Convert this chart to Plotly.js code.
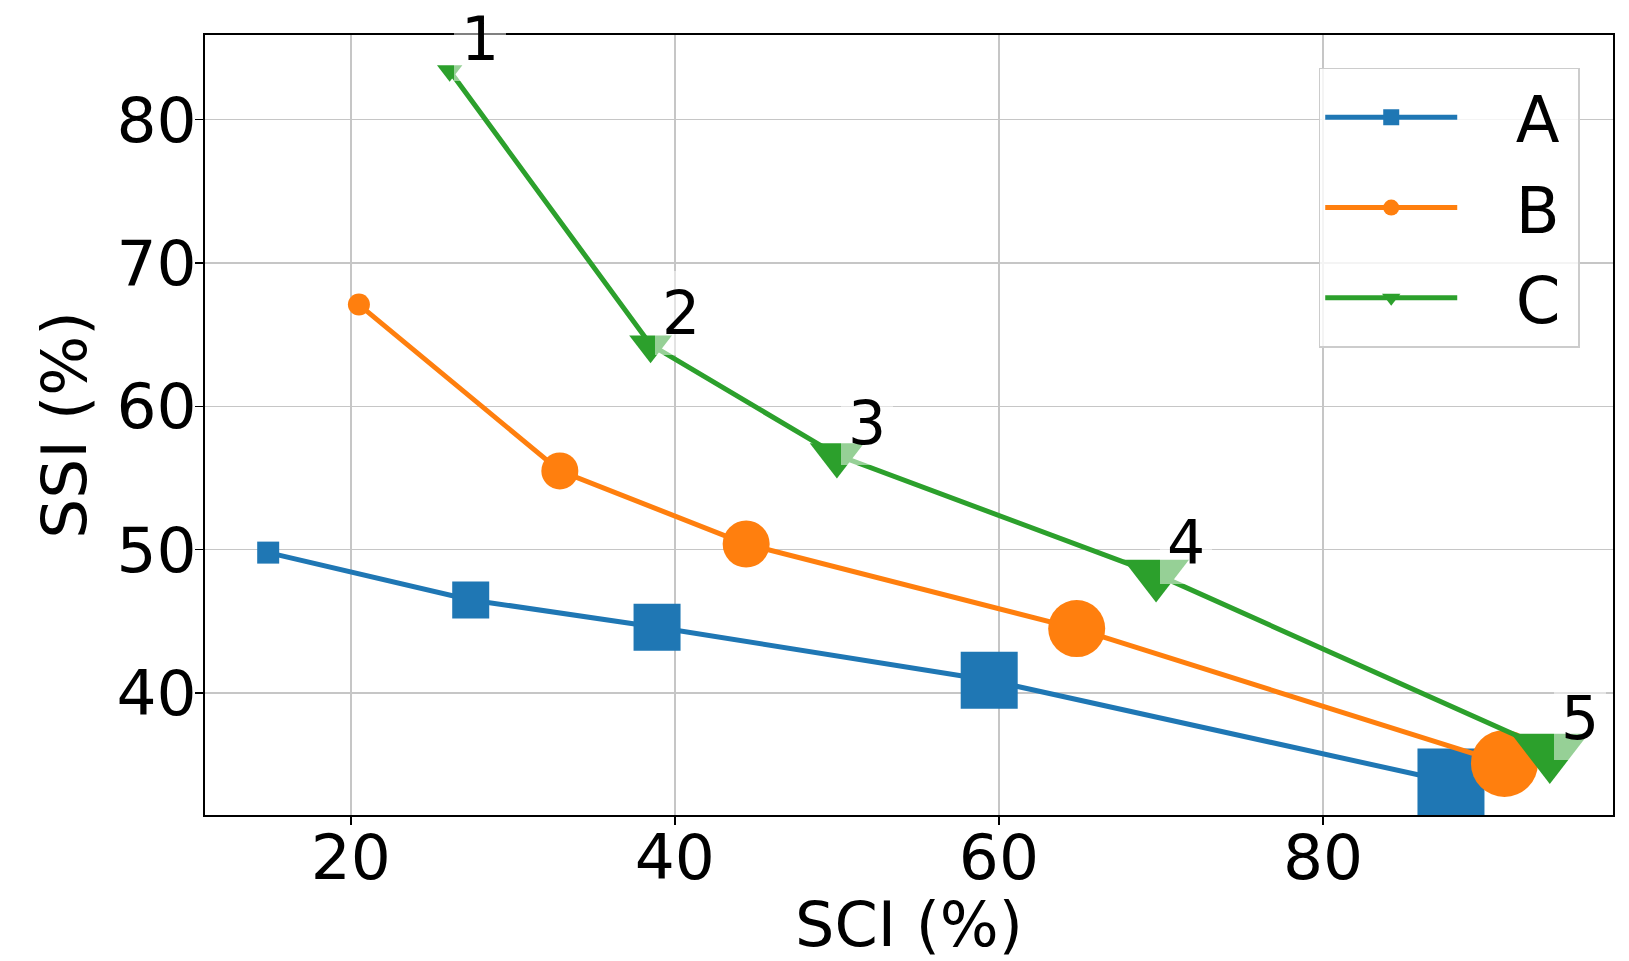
<!DOCTYPE html>
<html>
<head>
<meta charset="utf-8">
<script src="https://cdn.plot.ly/plotly-3.0.1.min.js"></script>
<style>
  html, body { margin: 0; padding: 0; background: #ffffff; }
  #chart { width: 1629px; height: 961px; }
</style>
</head>
<body>
<div id="chart"></div>
<script>
// ---- data ----
const seriesNames = ['A', 'B', 'C'];
const sciA = [14.9, 27.4, 38.9, 59.4, 87.9];
const ssiA = [49.8, 46.5, 44.6, 40.9, 33.8];
const sciB = [20.5, 32.9, 44.4, 64.8, 91.2];
const ssiB = [67.1, 55.5, 50.4, 44.5, 35.1];
const sciC = [26.1, 38.5, 50.0, 69.7, 94.0];
const ssiC = [83.4, 64.3, 56.6, 48.3, 36.0];
const pointLabels = ['1', '2', '3', '4', '5'];
const xTicks = [20, 40, 60, 80];
const yTicks = [40, 50, 60, 70, 80];

// ---- styling ----
const markerSizes = [22, 37, 47, 57, 67];
const colors = ['#1f77b4', '#ff7f0e', '#2ca02c'];
const symbols = ['square', 'circle', 'triangle-down'];
const FONT = 'DejaVu Sans, sans-serif';
const NB = '\u00a0';
const THIN = '\u2009';

const xs = [sciA, sciB, sciC];
const ys = [ssiA, ssiB, ssiC];

const traces = seriesNames.map((name, i) => ({
  type: 'scatter',
  mode: 'lines+markers',
  name: NB + NB + THIN + name + THIN,
  legendgroup: 'g' + i,
  x: xs[i],
  y: ys[i],
  line: { color: colors[i], width: 5 },
  marker: { color: colors[i], symbol: symbols[i], size: markerSizes, opacity: 1, line: { width: 0 } },
  hoverinfo: 'x+y'
}));

const annotations = pointLabels.map((t, k) => ({
  x: sciC[k], y: ssiC[k], xref: 'x', yref: 'y',
  text: t, showarrow: false,
  xanchor: 'left', yanchor: 'bottom',
  xshift: 4, yshift: -10,
  bgcolor: 'rgba(255,255,255,0.5)',
  borderpad: 7, borderwidth: 0,
  font: { family: FONT, size: 60, color: '#000000' }
}));

const axisCommon = {
  showline: true, mirror: true, linecolor: '#000000', linewidth: 1.8,
  showgrid: true, gridcolor: '#c6c6c6', gridwidth: 1.5,
  zeroline: false,
  ticks: 'outside', ticklen: 8, tickwidth: 1.5, tickcolor: '#000000',
  tickfont: { family: FONT, size: 63, color: '#000000' },
  automargin: false
};

const layout = {
  width: 1629, height: 961,
  margin: { l: 205, r: 16, t: 35, b: 146 },
  paper_bgcolor: '#ffffff', plot_bgcolor: '#ffffff',
  font: { family: FONT, color: '#000000' },
  showlegend: true,
  legend: {
    x: 0.791, y: 0.958, xanchor: 'left', yanchor: 'top',
    bgcolor: 'rgba(255,255,255,0.8)', bordercolor: '#cccccc', borderwidth: 1.5,
    font: { family: FONT, size: 64, color: '#000000' },
    itemwidth: 132, tracegroupgap: 4
  },
  xaxis: Object.assign({}, axisCommon, {
    range: [11.0, 97.9], tickvals: xTicks, ticktext: xTicks.map(String),
    ticklabelstandoff: -21,
    title: { text: 'SCI (%)', font: { family: FONT, size: 62, color: '#000000' }, standoff: 40 }
  }),
  yaxis: Object.assign({}, axisCommon, {
    range: [31.5, 85.9], tickvals: yTicks, ticktext: yTicks.map(String),
    ticklabelstandoff: -14,
    title: { text: 'SSI (%)', font: { family: FONT, size: 63, color: '#000000' }, standoff: 9 }
  }),
  annotations: annotations
};

Plotly.newPlot('chart', traces, layout, { displayModeBar: false, staticPlot: true });
</script>
</body>
</html>
